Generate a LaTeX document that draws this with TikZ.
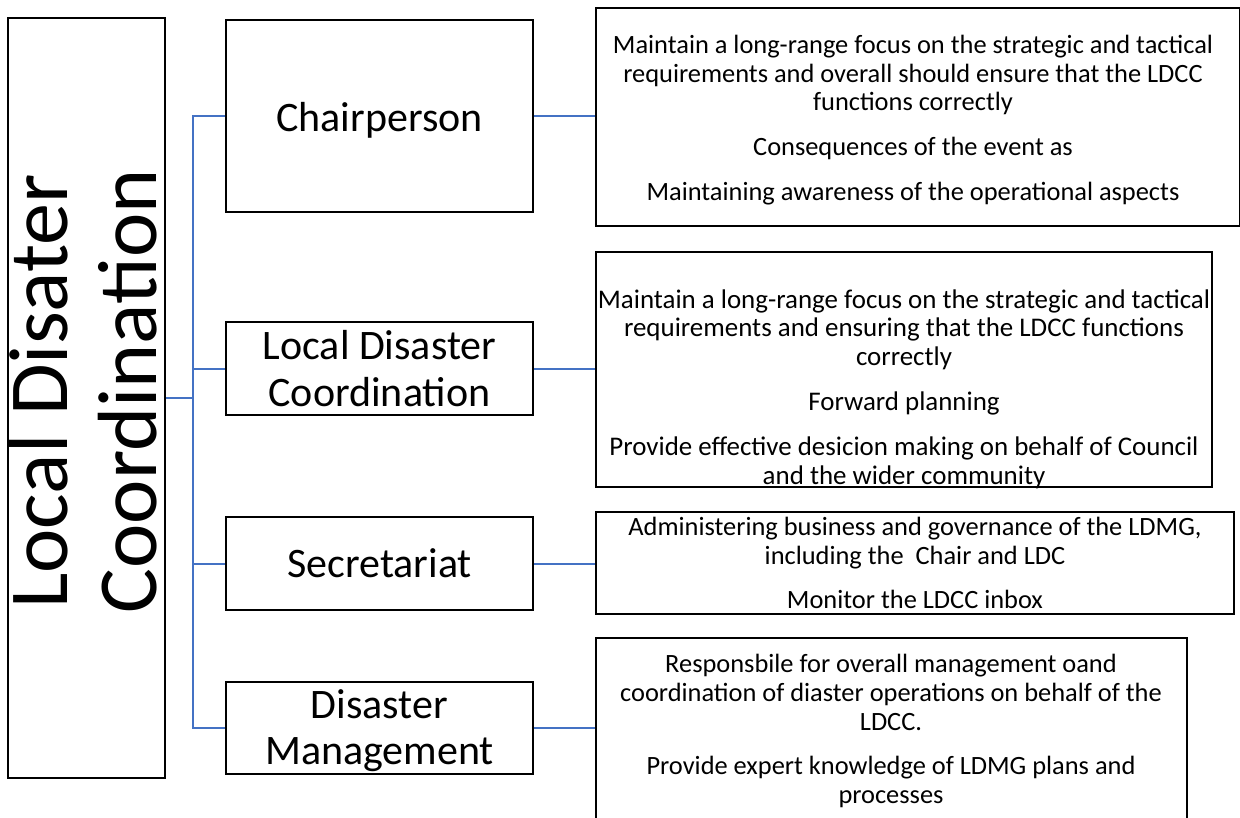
\documentclass[tikz,border=0pt]{standalone}
\usepackage{fontspec}
\setmainfont{Carlito}
\usetikzlibrary{fit}
\definecolor{linkblue}{HTML}{4472C4}
\begin{document}
\begin{tikzpicture}[x=0.75pt,y=-0.75pt,
  box/.style={draw=black, line width=1.8pt, inner sep=0pt, fill=none},
  conn/.style={draw=linkblue, line width=1.5pt},
  midtext/.style={font=\fontsize{31.5pt}{35pt}\selectfont, align=center, inner sep=0pt},
  desc/.style={font=\fontsize{19.8pt}{21.5pt}\selectfont, align=center, inner sep=0pt},
  descbig/.style={font=\fontsize{20.2pt}{21.6pt}\selectfont, align=center, inner sep=0pt},
  roottext/.style={font=\fontsize{63pt}{67pt}\selectfont, align=center, rotate=90, inner sep=0pt}]
\useasboundingbox (0,0) rectangle (1240,818);
\fill[white] (0,0) rectangle (1240,818);
% left root box
\node[box, fit={(8,18)(165,778)}] (root) {};
\node[roottext] (rootlabel) at ([xshift=-2.5pt,yshift=5pt]root.center) {Local Disater\\Coordination};
% middle boxes
\node[box, fit={(226,20)(533,212)}] (chair) {};
\node[box, fit={(226,322)(533,415)}] (ldc) {};
\node[box, fit={(226,517)(533,610)}] (sec) {};
\node[box, fit={(226,682)(533,774)}] (dm) {};
\node[midtext] (chairtext) at ([yshift=-3]chair.center) {Chairperson};
\node[midtext] (ldctext) at (ldc.center) {Local Disaster\\Coordination};
\node[midtext] (sectext) at (sec.center) {Secretariat};
\node[midtext] (dmtext) at ([yshift=-2]dm.center) {Disaster\\Management};
% right boxes
\node[box, fit={(596,8)(1240,226)}] (d1) {};
\node[box, fit={(596,252)(1212,487)}] (d2) {};
\node[box, fit={(596,512)(1234,614)}] (d3) {};
\node[box, fit={(596,638)(1187,822)}] (d4) {};
\node[desc] (d1text) at (913,120) {Maintain a long-range focus on the strategic and tactical\\requirements and overall should ensure that the LDCC\\functions correctly\\[12pt]Consequences of the event as\\[12pt]Maintaining awareness of the operational aspects};
\node[descbig] (d2text) at (904,389) {Maintain a long-range focus on the strategic and tactical\\requirements and ensuring that the LDCC functions\\correctly\\[12pt]Forward planning\\[12pt]Provide effective desicion making on behalf of Council\\and the wider community};
\node[desc] (d3text) at (915,563) {Administering business and governance of the LDMG,\\including the\ \ Chair and LDC\\[12pt]Monitor the LDCC inbox};
\node[desc] (d4text) at (891,731) {Responsbile for overall management oand\\coordination of diaster operations on behalf of the\\LDCC.\\[12pt]Provide expert knowledge of LDMG plans and\\processes};
% connectors
\coordinate (trunk) at (193,398);
\draw[conn] (root.east) -- (trunk);
\draw[conn] (trunk) |- (chair.west);
\draw[conn] (trunk) |- (ldc.west);
\draw[conn] (trunk) |- (sec.west);
\draw[conn] (trunk) |- (dm.west);
\draw[conn] (chair.east) -- (chair.east -| d1.west);
\draw[conn] (ldc.east) -- (ldc.east -| d2.west);
\draw[conn] (sec.east) -- (sec.east -| d3.west);
\draw[conn] (dm.east) -- (dm.east -| d4.west);
\end{tikzpicture}
\end{document}
